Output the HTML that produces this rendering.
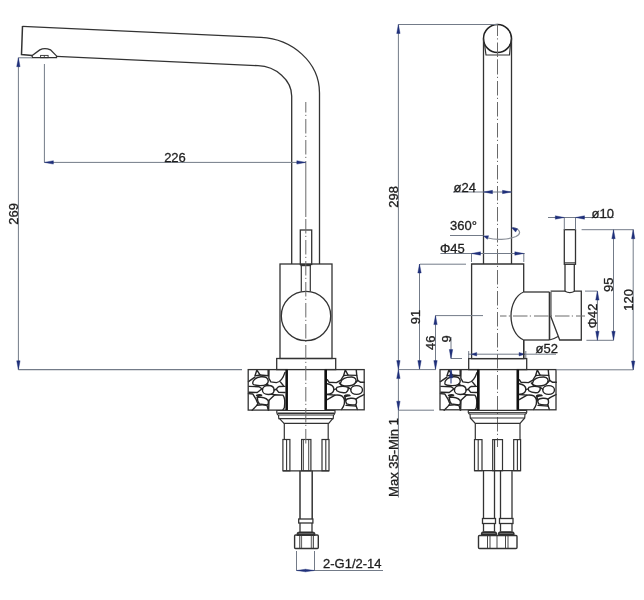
<!DOCTYPE html>
<html><head><meta charset="utf-8"><style>
html,body{margin:0;padding:0;background:#fff;width:644px;height:600px;overflow:hidden}
svg{display:block;will-change:transform}
text{font-family:"Liberation Sans",sans-serif}
</style></head><body>
<svg width="644" height="600" viewBox="0 0 644 600">

<path d="M22.5,26.4 L261,37.4 C292,38.9 319.5,62 319.5,93 L319.5,264" stroke="#333333" stroke-width="1.3" fill="none" />
<path d="M56.5,56.4 L258,65.7 C276,66.5 291.7,80 291.7,96 L291.7,264" stroke="#333333" stroke-width="1.3" fill="none" />
<path d="M22.5,26 L21.5,54.5 L32.2,55.4" stroke="#333333" stroke-width="1.5" fill="none" />
<path d="M32.2,55.6 L39.8,49.9 Q44.6,47.2 50.5,49.9 L56.5,55.9 L56.5,57.7 L32.2,57.7 Z" stroke="#333333" stroke-width="1.3" fill="none" />
<rect x="40.6" y="55.4" width="7.5" height="2.3000000000000043" stroke="#333333" stroke-width="0.9" fill="none"/>
<line x1="44.3" y1="55.4" x2="44.3" y2="57.7" stroke="#333333" stroke-width="0.8" />
<rect x="300.3" y="230" width="11.399999999999977" height="34.5" stroke="#333333" stroke-width="1.3" fill="none"/>
<rect x="280" y="264" width="52" height="94.5" stroke="#333333" stroke-width="1.3" fill="none"/>
<line x1="301.3" y1="264" x2="301.3" y2="291.5" stroke="#333333" stroke-width="1.2" />
<line x1="310.3" y1="264" x2="310.3" y2="291.5" stroke="#333333" stroke-width="1.2" />
<line x1="300.5" y1="265.2" x2="311" y2="265.2" stroke="#333333" stroke-width="2" />
<circle cx="306" cy="316" r="24.7" stroke="#333" stroke-width="1.3" fill="none"/>
<rect x="276.7" y="358.5" width="59.0" height="11.100000000000023" stroke="#333333" stroke-width="1.3" fill="none"/>
<g transform="translate(247,368) scale(0.07331)" stroke="#262626" stroke-width="19" fill="none" stroke-linejoin="round" stroke-linecap="round"><path d="M135,28 L108,108 L178,95 Z"/><path d="M288,25 L290,105 L178,95"/><path d="M80,215 C70,170 120,125 190,120 C250,115 285,130 290,175 C292,215 260,240 180,240 C120,240 85,235 80,215 Z"/><path d="M20,185 L108,125"/><path d="M300,25 L298,140 L325,190 L400,200 C440,195 490,150 518,60"/><path d="M455,190 L495,238"/><path d="M518,250 L440,252 C420,260 405,280 400,290 L430,330 L518,335"/><path d="M290,238 C340,238 370,265 370,300 C370,340 335,362 290,362 C245,362 210,335 210,300 C210,265 245,238 290,238 Z"/><path d="M25,250 L165,255 L212,290"/><path d="M25,330 L140,335 L205,282"/><path d="M20,350 L80,355 L120,420 L150,490 L125,520 L70,575"/><path d="M300,440 L380,365 L490,370 C515,400 520,470 510,540 L490,570"/><path d="M300,440 L295,575"/><path d="M330,360 L380,365"/><path d="M140,395 C180,395 260,400 285,440 C300,470 290,500 270,505 L170,490 C150,470 140,420 140,395 Z"/><path d="M130,375 C150,365 190,360 200,372 C175,375 150,385 140,400"/><path d="M130,510 C180,500 250,500 275,515 L290,575"/><path d="M275,210 L290,240"/><path d="M370,300 L400,290"/></g>
<rect x="248.2" y="369.6" width="39.0" height="40.5" stroke="#333333" stroke-width="1.3" fill="none"/>
<line x1="286.59999999999997" y1="369.6" x2="286.59999999999997" y2="410.1" stroke="#111" stroke-width="2.4" />
<g transform="translate(324,368) scale(0.07331)" stroke="#262626" stroke-width="19" fill="none" stroke-linejoin="round" stroke-linecap="round"><path d="M290,25 L268,103 L328,97 Z"/><path d="M440,25 L447,100 L328,97"/><path d="M45,160 L70,195 L170,200 L230,165 L268,103"/><path d="M225,205 C235,150 300,120 380,122 C430,125 450,160 430,200 C410,235 350,250 280,245 C240,240 220,225 225,205 Z"/><path d="M447,100 L460,170 L500,195 L550,195"/><path d="M430,200 L460,170"/><path d="M445,240 C490,240 525,265 525,300 C525,335 490,360 445,360 C400,360 365,335 365,300 C365,265 400,240 445,240 Z"/><path d="M45,215 C110,225 135,265 135,295 C130,330 100,355 45,360"/><path d="M175,265 C220,250 290,250 330,265 C335,290 320,320 300,335 C250,340 200,330 175,310 C165,290 165,275 175,265 Z"/><path d="M135,295 L168,285"/><path d="M210,205 L240,240"/><path d="M330,265 L365,290"/><path d="M45,430 L150,370 C220,362 260,380 275,420 C290,470 275,520 240,565"/><path d="M45,362 L150,370"/><path d="M280,380 C300,360 340,365 355,375 C330,378 300,385 285,395 Z"/><path d="M295,435 C330,410 400,405 435,425 C450,455 445,490 430,500 C390,505 340,500 310,490 C300,470 295,450 295,435 Z"/><path d="M300,510 L440,520 L455,565"/><path d="M435,425 L470,400 L545,362"/><path d="M275,420 L295,435"/><path d="M285,395 L300,440"/><path d="M430,500 L440,520"/></g>
<rect x="325.2" y="369.6" width="39.0" height="40.19999999999999" stroke="#333333" stroke-width="1.3" fill="none"/>
<line x1="325.8" y1="369.6" x2="325.8" y2="409.8" stroke="#111" stroke-width="2.4" />
<path d="M276.8,410.5 L335,410.5 L335,412.7 C334.5,414 334,415 333.5,415 L278.3,415 C277.8,415 277,414 276.8,412.7 Z" stroke="#333333" stroke-width="1.2" fill="none" />
<line x1="277.5" y1="413.2" x2="334.5" y2="413.2" stroke="#333333" stroke-width="1.5" />
<path d="M278.5,415 L278.8,418.7 L333.2,418.7 L333.5,415" stroke="#333333" stroke-width="1.2" fill="none" />
<path d="M279.5,418.7 L284.1,423.4 L328.7,423.4 L332.7,418.7" stroke="#333333" stroke-width="1.2" fill="none" />
<line x1="284.3" y1="423.2" x2="284.3" y2="439.5" stroke="#333333" stroke-width="1.2" />
<line x1="328.2" y1="423.2" x2="328.2" y2="439.5" stroke="#333333" stroke-width="1.2" />
<rect x="282.9" y="439.5" width="7.0" height="31.30000000000001" stroke="#333333" stroke-width="1.2" fill="none"/>
<line x1="286.6" y1="439.5" x2="286.6" y2="470.8" stroke="#333333" stroke-width="1.1" />
<rect x="301.6" y="439.5" width="9.299999999999955" height="31.30000000000001" stroke="#333333" stroke-width="1.2" fill="none"/>
<line x1="303.4" y1="439.5" x2="303.4" y2="470.8" stroke="#333333" stroke-width="0.9" />
<line x1="308.7" y1="439.5" x2="308.7" y2="470.8" stroke="#333333" stroke-width="0.9" />
<rect x="322" y="439.5" width="7" height="31.30000000000001" stroke="#333333" stroke-width="1.2" fill="none"/>
<line x1="325.8" y1="439.5" x2="325.8" y2="470.8" stroke="#333333" stroke-width="1.1" />
<line x1="282.9" y1="470.8" x2="329" y2="470.8" stroke="#333333" stroke-width="1.3" />
<line x1="300" y1="470.8" x2="300" y2="519" stroke="#333333" stroke-width="1.5" />
<line x1="312.2" y1="470.8" x2="312.2" y2="519" stroke="#333333" stroke-width="1.5" />
<rect x="298.7" y="519" width="14.199999999999989" height="4" stroke="#333333" stroke-width="1.3" fill="none"/>
<line x1="300" y1="523" x2="300" y2="532" stroke="#333333" stroke-width="1.3" />
<line x1="312" y1="523" x2="312" y2="532" stroke="#333333" stroke-width="1.3" />
<path d="M297.3,535.3 L297.3,533.3 Q297.8,532 299.5,532 L312.5,532 Q314.2,532 314.7,533.3 L314.7,535.3 Z" stroke="#333333" stroke-width="1.2" fill="#2a2a2a" />
<line x1="298.5" y1="533.6" x2="313.5" y2="533.6" stroke="#777" stroke-width="0.8" />
<path d="M295.5,535 L317.3,535 Q318.3,535 318.3,536 L318.3,547.5 Q318.3,548.5 317.3,548.5 L295.5,548.5 Q294.6,548.5 294.6,547.5 L294.6,536 Q294.6,535 295.5,535 Z" stroke="#333333" stroke-width="1.4" fill="none" />
<line x1="299.8" y1="535.5" x2="299.8" y2="548" stroke="#333333" stroke-width="1" />
<line x1="301.6" y1="535.5" x2="301.6" y2="548" stroke="#333333" stroke-width="0.8" />
<line x1="311.3" y1="535.5" x2="311.3" y2="548" stroke="#333333" stroke-width="0.8" />
<line x1="313.3" y1="535.5" x2="313.3" y2="548" stroke="#333333" stroke-width="1" />
<line x1="305.8" y1="102" x2="305.8" y2="162.4" stroke="#6a6a6a" stroke-width="1" stroke-dasharray="14.5 2.3 1.2 3" stroke-dashoffset="4"/>
<line x1="305.8" y1="162.4" x2="305.8" y2="217" stroke="#6a6a6a" stroke-width="1" />
<line x1="305.8" y1="219" x2="305.8" y2="444" stroke="#6a6a6a" stroke-width="1" stroke-dasharray="14.5 2.3 1.2 3" stroke-dashoffset="0"/>
<line x1="44.4" y1="64" x2="44.4" y2="162.4" stroke="#737b88" stroke-width="1" />
<line x1="44.4" y1="162.4" x2="305.8" y2="162.4" stroke="#737b88" stroke-width="1" />
<path d="M44.40,162.40 L53.40,160.70 L53.40,164.10 Z" fill="#1f2f7a" stroke="#1f2f7a" stroke-width="0.4"/>
<path d="M305.80,162.40 L296.80,164.10 L296.80,160.70 Z" fill="#1f2f7a" stroke="#1f2f7a" stroke-width="0.4"/>
<text x="175" y="162" font-size="13" text-anchor="middle" fill="#1e1e1e" stroke="#1e1e1e" stroke-width="0.3" >226</text>
<line x1="18.5" y1="57.7" x2="32" y2="57.7" stroke="#9aa0a8" stroke-width="1.4" />
<line x1="18.4" y1="57.7" x2="18.4" y2="369.8" stroke="#737b88" stroke-width="1" />
<path d="M18.40,57.70 L20.10,66.70 L16.70,66.70 Z" fill="#1f2f7a" stroke="#1f2f7a" stroke-width="0.4"/>
<path d="M18.40,369.80 L16.70,360.80 L20.10,360.80 Z" fill="#1f2f7a" stroke="#1f2f7a" stroke-width="0.4"/>
<line x1="18.4" y1="369.7" x2="242" y2="369.7" stroke="#737b88" stroke-width="1.2" />
<text x="0" y="0" transform="translate(17.5,213.8) rotate(-90)" font-size="13" text-anchor="middle" fill="#1e1e1e" stroke="#1e1e1e" stroke-width="0.3" >269</text>
<line x1="296.5" y1="551" x2="296.5" y2="570.5" stroke="#737b88" stroke-width="1" />
<line x1="314.5" y1="551" x2="314.5" y2="570.5" stroke="#737b88" stroke-width="1" />
<line x1="296.5" y1="570.5" x2="383" y2="570.5" stroke="#737b88" stroke-width="1" />
<path d="M296.50,570.50 L305.50,569.20 L305.50,571.80 Z" fill="#1f2f7a" stroke="#1f2f7a" stroke-width="0.4"/>
<path d="M314.50,570.50 L305.50,571.80 L305.50,569.20 Z" fill="#1f2f7a" stroke="#1f2f7a" stroke-width="0.4"/>
<text x="323" y="568.2" font-size="13" text-anchor="start" fill="#1e1e1e" stroke="#1e1e1e" stroke-width="0.3" >2-G1/2-14</text>
<circle cx="497.5" cy="38.5" r="14" stroke="#222" stroke-width="1.5" fill="none"/>
<line x1="483.5" y1="38.5" x2="483.5" y2="264" stroke="#333333" stroke-width="1.3" />
<line x1="511.5" y1="38.5" x2="511.5" y2="264" stroke="#333333" stroke-width="1.3" />
<path d="M484.5,44 L486,55 L509.5,55 L510.5,44" stroke="#333333" stroke-width="1.2" fill="none" />
<line x1="497.5" y1="24.5" x2="497.5" y2="60" stroke="#6a6a6a" stroke-width="1" stroke-dasharray="14.5 2.3 1.2 3" stroke-dashoffset="3"/>
<line x1="497.5" y1="60" x2="497.5" y2="447" stroke="#6a6a6a" stroke-width="1" stroke-dasharray="14.5 2.3 1.2 3" stroke-dashoffset="0"/>
<line x1="398.4" y1="24.5" x2="497.5" y2="24.5" stroke="#737b88" stroke-width="1" />
<line x1="398.4" y1="24.5" x2="398.4" y2="497.5" stroke="#737b88" stroke-width="1" />
<path d="M398.40,24.50 L400.10,33.50 L396.70,33.50 Z" fill="#1f2f7a" stroke="#1f2f7a" stroke-width="0.4"/>
<path d="M398.40,369.60 L396.70,360.60 L400.10,360.60 Z" fill="#1f2f7a" stroke="#1f2f7a" stroke-width="0.4"/>
<text x="0" y="0" transform="translate(397.5,196.8) rotate(-90)" font-size="13" text-anchor="middle" fill="#1e1e1e" stroke="#1e1e1e" stroke-width="0.3" >298</text>
<line x1="453" y1="192" x2="511.5" y2="192" stroke="#737b88" stroke-width="1" />
<path d="M483.50,192.00 L492.50,190.30 L492.50,193.70 Z" fill="#1f2f7a" stroke="#1f2f7a" stroke-width="0.4"/>
<path d="M511.50,192.00 L502.50,193.70 L502.50,190.30 Z" fill="#1f2f7a" stroke="#1f2f7a" stroke-width="0.4"/>
<text x="453.5" y="191.7" font-size="13" text-anchor="start" fill="#1e1e1e" stroke="#1e1e1e" stroke-width="0.3" >ø24</text>
<text x="450" y="230" font-size="13" text-anchor="start" fill="#1e1e1e" stroke="#1e1e1e" stroke-width="0.3" >360°</text>
<line x1="450" y1="235.5" x2="483.5" y2="235.5" stroke="#737b88" stroke-width="1" />
<path d="M488,238 C495,240 508,240 516,236.5 C522,233.5 520,229 513,227.5" stroke="#8a8f98" stroke-width="1.2" fill="none" />
<path d="M483.50,236.00 L488.60,235.70 L487.40,239.30 Z" fill="#1f2f7a" stroke="#1f2f7a" stroke-width="0.4"/>
<path d="M511.50,227.40 L517.60,228.70 L515.60,232.10 Z" fill="#1f2f7a" stroke="#1f2f7a" stroke-width="0.4"/>
<line x1="440.4" y1="253.5" x2="524.8" y2="253.5" stroke="#737b88" stroke-width="1" />
<line x1="471.5" y1="254" x2="471.5" y2="262" stroke="#737b88" stroke-width="1" />
<line x1="523.8" y1="254" x2="523.8" y2="262" stroke="#737b88" stroke-width="1" />
<path d="M471.50,253.50 L480.50,251.80 L480.50,255.20 Z" fill="#1f2f7a" stroke="#1f2f7a" stroke-width="0.4"/>
<path d="M523.80,253.50 L514.80,255.20 L514.80,251.80 Z" fill="#1f2f7a" stroke="#1f2f7a" stroke-width="0.4"/>
<text x="440" y="252.8" font-size="13" text-anchor="start" fill="#1e1e1e" stroke="#1e1e1e" stroke-width="0.3" >Φ45</text>
<path d="M523.7,292 L523.7,264 L471.6,264 L471.6,358.6 L523.7,358.6 L523.7,340" stroke="#333333" stroke-width="1.3" fill="none" />
<line x1="420" y1="264.2" x2="466" y2="264.2" stroke="#737b88" stroke-width="1" />
<path d="M523.7,292 C516,295 511,305 511,316 C511,327 516,337 523.7,340" stroke="#333333" stroke-width="1.3" fill="none" />
<line x1="523.7" y1="292" x2="549.5" y2="292" stroke="#333333" stroke-width="1.3" />
<line x1="523.7" y1="340" x2="549.5" y2="340" stroke="#333333" stroke-width="1.3" />
<line x1="549.5" y1="292" x2="549.5" y2="340" stroke="#333333" stroke-width="1.6" />
<line x1="551" y1="292" x2="551" y2="316" stroke="#333333" stroke-width="1" />
<path d="M550.6,291.2 L565,291.2 Q569.8,294 574.6,291.2 L581.3,291.2 L581.3,340 L559.7,340 L550.6,316" stroke="#333333" stroke-width="1.3" fill="none" />
<path d="M549.5,340 Q554,339 558,336.5" stroke="#333333" stroke-width="1.1" fill="none" />
<line x1="500" y1="316" x2="585" y2="316" stroke="#6a6a6a" stroke-width="1" stroke-dasharray="14.5 2.3 1.2 3" stroke-dashoffset="8"/>
<rect x="564.3" y="229.7" width="11.200000000000045" height="34.60000000000002" stroke="#333333" stroke-width="1.3" fill="none"/>
<line x1="564.3" y1="262.8" x2="575.5" y2="262.8" stroke="#333333" stroke-width="1" />
<line x1="565" y1="264.3" x2="565" y2="291.2" stroke="#333333" stroke-width="1.3" />
<line x1="574.3" y1="264.3" x2="574.3" y2="291.2" stroke="#333333" stroke-width="1.3" />
<line x1="564.3" y1="217.5" x2="564.3" y2="229.7" stroke="#737b88" stroke-width="1" />
<line x1="575.5" y1="217.5" x2="575.5" y2="229.7" stroke="#737b88" stroke-width="1" />
<line x1="548" y1="217.5" x2="613.7" y2="217.5" stroke="#737b88" stroke-width="1" />
<path d="M564.30,217.50 L555.30,219.20 L555.30,215.80 Z" fill="#1f2f7a" stroke="#1f2f7a" stroke-width="0.4"/>
<path d="M575.50,217.50 L584.50,215.80 L584.50,219.20 Z" fill="#1f2f7a" stroke="#1f2f7a" stroke-width="0.4"/>
<text x="591.5" y="217.5" font-size="13" text-anchor="start" fill="#1e1e1e" stroke="#1e1e1e" stroke-width="0.3" >ø10</text>
<line x1="581.6" y1="229.7" x2="633.6" y2="229.7" stroke="#737b88" stroke-width="1" />
<line x1="613.5" y1="229.7" x2="613.5" y2="340.3" stroke="#737b88" stroke-width="1" />
<path d="M613.50,229.70 L615.20,238.70 L611.80,238.70 Z" fill="#1f2f7a" stroke="#1f2f7a" stroke-width="0.4"/>
<path d="M613.50,340.30 L611.80,331.30 L615.20,331.30 Z" fill="#1f2f7a" stroke="#1f2f7a" stroke-width="0.4"/>
<text x="0" y="0" transform="translate(612.8,284.7) rotate(-90)" font-size="13" text-anchor="middle" fill="#1e1e1e" stroke="#1e1e1e" stroke-width="0.3" >95</text>
<line x1="633.2" y1="229.7" x2="633.2" y2="370" stroke="#737b88" stroke-width="1" />
<path d="M633.20,229.70 L634.90,238.70 L631.50,238.70 Z" fill="#1f2f7a" stroke="#1f2f7a" stroke-width="0.4"/>
<path d="M633.20,370.00 L631.50,361.00 L634.90,361.00 Z" fill="#1f2f7a" stroke="#1f2f7a" stroke-width="0.4"/>
<text x="0" y="0" transform="translate(632.8,299.8) rotate(-90)" font-size="13" text-anchor="middle" fill="#1e1e1e" stroke="#1e1e1e" stroke-width="0.3" >120</text>
<line x1="585" y1="291.1" x2="597.4" y2="291.1" stroke="#737b88" stroke-width="1" />
<line x1="586.4" y1="340.3" x2="613.5" y2="340.3" stroke="#737b88" stroke-width="1" />
<line x1="597.4" y1="291.1" x2="597.4" y2="340.3" stroke="#737b88" stroke-width="1" />
<path d="M597.40,291.10 L599.10,300.10 L595.70,300.10 Z" fill="#1f2f7a" stroke="#1f2f7a" stroke-width="0.4"/>
<path d="M597.40,340.30 L595.70,331.30 L599.10,331.30 Z" fill="#1f2f7a" stroke="#1f2f7a" stroke-width="0.4"/>
<text x="0" y="0" transform="translate(596.9,315.9) rotate(-90)" font-size="13" text-anchor="middle" fill="#1e1e1e" stroke="#1e1e1e" stroke-width="0.3" >Φ42</text>
<line x1="468" y1="354.2" x2="556" y2="354.2" stroke="#737b88" stroke-width="1" />
<path d="M471.20,354.20 L476.70,352.40 L476.70,356.00 Z" fill="#1f2f7a" stroke="#1f2f7a" stroke-width="0.4"/>
<path d="M524.60,354.20 L519.10,356.00 L519.10,352.40 Z" fill="#1f2f7a" stroke="#1f2f7a" stroke-width="0.4"/>
<line x1="468.7" y1="351" x2="468.7" y2="358.6" stroke="#737b88" stroke-width="1" />
<line x1="525.8" y1="351" x2="525.8" y2="358.6" stroke="#737b88" stroke-width="1" />
<text x="535.5" y="352.7" font-size="13" text-anchor="start" fill="#1e1e1e" stroke="#1e1e1e" stroke-width="0.3" >ø52</text>
<line x1="523.7" y1="340" x2="523.7" y2="358.6" stroke="#333333" stroke-width="1.3" />
<line x1="419.5" y1="264" x2="419.5" y2="369.6" stroke="#737b88" stroke-width="1" />
<path d="M419.50,264.00 L421.20,273.00 L417.80,273.00 Z" fill="#1f2f7a" stroke="#1f2f7a" stroke-width="0.4"/>
<path d="M419.50,369.60 L417.80,360.60 L421.20,360.60 Z" fill="#1f2f7a" stroke="#1f2f7a" stroke-width="0.4"/>
<text x="0" y="0" transform="translate(420,317) rotate(-90)" font-size="13" text-anchor="middle" fill="#1e1e1e" stroke="#1e1e1e" stroke-width="0.3" >91</text>
<line x1="435.5" y1="315.6" x2="483" y2="315.6" stroke="#737b88" stroke-width="1" />
<line x1="435.5" y1="315.6" x2="435.5" y2="369.6" stroke="#737b88" stroke-width="1" />
<path d="M435.50,315.60 L437.20,324.60 L433.80,324.60 Z" fill="#1f2f7a" stroke="#1f2f7a" stroke-width="0.4"/>
<path d="M435.50,369.60 L433.80,360.60 L437.20,360.60 Z" fill="#1f2f7a" stroke="#1f2f7a" stroke-width="0.4"/>
<text x="0" y="0" transform="translate(435,342.8) rotate(-90)" font-size="13" text-anchor="middle" fill="#1e1e1e" stroke="#1e1e1e" stroke-width="0.3" >46</text>
<line x1="451" y1="337" x2="451" y2="358.5" stroke="#737b88" stroke-width="1" />
<line x1="451" y1="358.5" x2="462" y2="358.5" stroke="#737b88" stroke-width="1" />
<path d="M451.00,358.50 L449.30,349.50 L452.70,349.50 Z" fill="#1f2f7a" stroke="#1f2f7a" stroke-width="0.4"/>
<text x="0" y="0" transform="translate(451,339) rotate(-90)" font-size="13" text-anchor="middle" fill="#1e1e1e" stroke="#1e1e1e" stroke-width="0.3" >9</text>
<rect x="468.7" y="358.6" width="58.00000000000006" height="11.0" stroke="#333333" stroke-width="1.3" fill="none"/>
<line x1="398.4" y1="369.6" x2="436" y2="369.6" stroke="#737b88" stroke-width="1" />
<g transform="translate(439,368) scale(0.07331)" stroke="#262626" stroke-width="19" fill="none" stroke-linejoin="round" stroke-linecap="round"><path d="M135,28 L108,108 L178,95 Z"/><path d="M288,25 L290,105 L178,95"/><path d="M80,215 C70,170 120,125 190,120 C250,115 285,130 290,175 C292,215 260,240 180,240 C120,240 85,235 80,215 Z"/><path d="M20,185 L108,125"/><path d="M300,25 L298,140 L325,190 L400,200 C440,195 490,150 518,60"/><path d="M455,190 L495,238"/><path d="M518,250 L440,252 C420,260 405,280 400,290 L430,330 L518,335"/><path d="M290,238 C340,238 370,265 370,300 C370,340 335,362 290,362 C245,362 210,335 210,300 C210,265 245,238 290,238 Z"/><path d="M25,250 L165,255 L212,290"/><path d="M25,330 L140,335 L205,282"/><path d="M20,350 L80,355 L120,420 L150,490 L125,520 L70,575"/><path d="M300,440 L380,365 L490,370 C515,400 520,470 510,540 L490,570"/><path d="M300,440 L295,575"/><path d="M330,360 L380,365"/><path d="M140,395 C180,395 260,400 285,440 C300,470 290,500 270,505 L170,490 C150,470 140,420 140,395 Z"/><path d="M130,375 C150,365 190,360 200,372 C175,375 150,385 140,400"/><path d="M130,510 C180,500 250,500 275,515 L290,575"/><path d="M275,210 L290,240"/><path d="M370,300 L400,290"/></g>
<rect x="440" y="369.6" width="38.80000000000001" height="40.19999999999999" stroke="#333333" stroke-width="1.3" fill="none"/>
<line x1="478.2" y1="369.6" x2="478.2" y2="409.8" stroke="#111" stroke-width="2.4" />
<g transform="translate(516,368) scale(0.07331)" stroke="#262626" stroke-width="19" fill="none" stroke-linejoin="round" stroke-linecap="round"><path d="M290,25 L268,103 L328,97 Z"/><path d="M440,25 L447,100 L328,97"/><path d="M45,160 L70,195 L170,200 L230,165 L268,103"/><path d="M225,205 C235,150 300,120 380,122 C430,125 450,160 430,200 C410,235 350,250 280,245 C240,240 220,225 225,205 Z"/><path d="M447,100 L460,170 L500,195 L550,195"/><path d="M430,200 L460,170"/><path d="M445,240 C490,240 525,265 525,300 C525,335 490,360 445,360 C400,360 365,335 365,300 C365,265 400,240 445,240 Z"/><path d="M45,215 C110,225 135,265 135,295 C130,330 100,355 45,360"/><path d="M175,265 C220,250 290,250 330,265 C335,290 320,320 300,335 C250,340 200,330 175,310 C165,290 165,275 175,265 Z"/><path d="M135,295 L168,285"/><path d="M210,205 L240,240"/><path d="M330,265 L365,290"/><path d="M45,430 L150,370 C220,362 260,380 275,420 C290,470 275,520 240,565"/><path d="M45,362 L150,370"/><path d="M280,380 C300,360 340,365 355,375 C330,378 300,385 285,395 Z"/><path d="M295,435 C330,410 400,405 435,425 C450,455 445,490 430,500 C390,505 340,500 310,490 C300,470 295,450 295,435 Z"/><path d="M300,510 L440,520 L455,565"/><path d="M435,425 L470,400 L545,362"/><path d="M275,420 L295,435"/><path d="M285,395 L300,440"/><path d="M430,500 L440,520"/></g>
<rect x="517.3" y="369.6" width="38.700000000000045" height="40.19999999999999" stroke="#333333" stroke-width="1.3" fill="none"/>
<line x1="517.9" y1="369.6" x2="517.9" y2="409.8" stroke="#111" stroke-width="2.4" />
<line x1="451" y1="369.8" x2="451" y2="383.5" stroke="#3a4a8a" stroke-width="1.2" />
<path d="M451.00,369.80 L452.90,377.80 L449.10,377.80 Z" fill="#1f2f7a" stroke="#1f2f7a" stroke-width="0.4"/>
<line x1="398.4" y1="410.2" x2="434" y2="410.2" stroke="#737b88" stroke-width="1" />
<path d="M398.40,369.60 L400.10,378.60 L396.70,378.60 Z" fill="#1f2f7a" stroke="#1f2f7a" stroke-width="0.4"/>
<path d="M398.40,410.20 L396.70,401.20 L400.10,401.20 Z" fill="#1f2f7a" stroke="#1f2f7a" stroke-width="0.4"/>
<line x1="556" y1="369.8" x2="633.2" y2="369.8" stroke="#737b88" stroke-width="1" />
<text x="0" y="0" transform="translate(397.5,457.5) rotate(-90)" font-size="13" text-anchor="middle" fill="#1e1e1e" stroke="#1e1e1e" stroke-width="0.3" >Max 35-Min 1</text>
<path d="M468.3,410.4 L526.7,410.4 L526.7,412.5 C526.2,414 525.7,414 525.2,414 L469.8,414 C469.3,414 468.8,414 468.3,412.5 Z" stroke="#333333" stroke-width="1.2" fill="none" />
<line x1="469" y1="412.5" x2="526" y2="412.5" stroke="#333333" stroke-width="0.9" />
<path d="M470,414 L470.3,418 L524.7,418 L525,414" stroke="#333333" stroke-width="1.2" fill="none" />
<path d="M470.3,418 L475.3,423.3 L520,423.3 L524.7,418" stroke="#333333" stroke-width="1.2" fill="none" />
<line x1="475.3" y1="423.3" x2="475.3" y2="439.6" stroke="#333333" stroke-width="1.2" />
<line x1="520" y1="423.3" x2="520" y2="439.6" stroke="#333333" stroke-width="1.2" />
<rect x="474.5" y="439.6" width="7.5" height="31.099999999999966" stroke="#333333" stroke-width="1.2" fill="none"/>
<line x1="478.2" y1="439.6" x2="478.2" y2="470.7" stroke="#333333" stroke-width="1.1" />
<rect x="492.7" y="439.6" width="9.800000000000011" height="31.099999999999966" stroke="#333333" stroke-width="1.2" fill="none"/>
<line x1="494.6" y1="439.6" x2="494.6" y2="470.7" stroke="#333333" stroke-width="1.1" />
<rect x="513.7" y="439.6" width="6.899999999999977" height="31.099999999999966" stroke="#333333" stroke-width="1.2" fill="none"/>
<line x1="517.4" y1="439.6" x2="517.4" y2="470.7" stroke="#333333" stroke-width="1.1" />
<line x1="474.4" y1="470.7" x2="520.7" y2="470.7" stroke="#333333" stroke-width="1.3" />
<line x1="483.5" y1="470.7" x2="483.5" y2="518.5" stroke="#333333" stroke-width="1.3" />
<line x1="494.5" y1="470.7" x2="494.5" y2="518.5" stroke="#333333" stroke-width="1.3" />
<rect x="482.5" y="518.5" width="13.0" height="5.0" stroke="#333333" stroke-width="1.3" fill="none"/>
<line x1="483.5" y1="523.5" x2="483.5" y2="531.5" stroke="#333333" stroke-width="1.3" />
<line x1="494.5" y1="523.5" x2="494.5" y2="531.5" stroke="#333333" stroke-width="1.3" />
<path d="M481.5,535.3 L481.5,533.1 Q482.0,531.8 483.5,531.8 L494.5,531.8 Q496.0,531.8 496.5,533.1 L496.5,535.3 Z" stroke="#333333" stroke-width="1.2" fill="#2a2a2a" />
<line x1="482.5" y1="533.5" x2="495.5" y2="533.5" stroke="#777" stroke-width="0.8" />
<line x1="500.5" y1="470.7" x2="500.5" y2="518.5" stroke="#333333" stroke-width="1.3" />
<line x1="512" y1="470.7" x2="512" y2="518.5" stroke="#333333" stroke-width="1.3" />
<rect x="499.5" y="518.5" width="13.5" height="5.0" stroke="#333333" stroke-width="1.3" fill="none"/>
<line x1="500.5" y1="523.5" x2="500.5" y2="531.5" stroke="#333333" stroke-width="1.3" />
<line x1="512" y1="523.5" x2="512" y2="531.5" stroke="#333333" stroke-width="1.3" />
<path d="M498.5,535.3 L498.5,533.1 Q499.0,531.8 500.5,531.8 L512,531.8 Q513.5,531.8 514,533.1 L514,535.3 Z" stroke="#333333" stroke-width="1.2" fill="#2a2a2a" />
<line x1="499.5" y1="533.5" x2="513" y2="533.5" stroke="#777" stroke-width="0.8" />
<path d="M479.5,535.5 L516,535.5 Q517,535.5 517,536.5 L517,547.5 Q517,548.5 516,548.5 L479.5,548.5 Q478.5,548.5 478.5,547.5 L478.5,536.5 Q478.5,535.5 479.5,535.5 Z" stroke="#333333" stroke-width="1.4" fill="none" />
<line x1="487.5" y1="536" x2="487.5" y2="548" stroke="#333333" stroke-width="0.9" />
<line x1="490" y1="536" x2="490" y2="548" stroke="#333333" stroke-width="0.9" />
<line x1="497" y1="536" x2="497" y2="548" stroke="#333333" stroke-width="0.9" />
<line x1="505.5" y1="536" x2="505.5" y2="548" stroke="#333333" stroke-width="0.9" />
<line x1="508" y1="536" x2="508" y2="548" stroke="#333333" stroke-width="0.9" />
</svg>
</body></html>
